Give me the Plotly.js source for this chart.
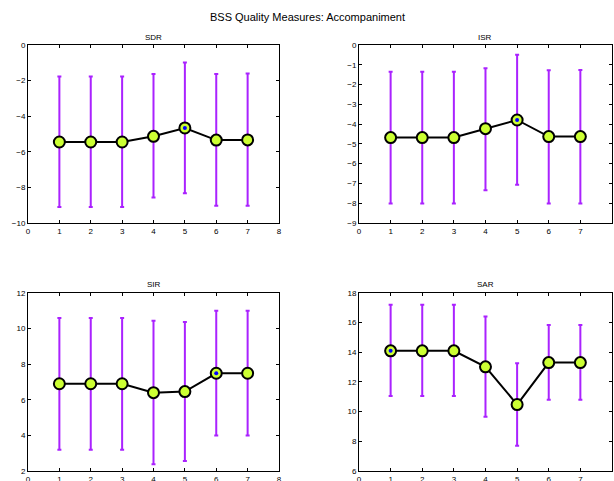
<!DOCTYPE html>
<html><head><meta charset="utf-8">
<script src="https://cdn.plot.ly/plotly-3.0.1.min.js"></script>
<style>html,body{margin:0;padding:0;background:#fff}#c{width:614px;height:481px}</style>
</head><body><div id="c"></div>
<script>
const xs = [1,2,3,4,5,6,7];
const sdrMean = [-5.45,-5.45,-5.45,-5.13,-4.66,-5.34,-5.33];
const sdrHigh = [-1.77,-1.77,-1.77,-1.63,-0.98,-1.63,-1.60];
const sdrLow  = [-9.10,-9.10,-9.10,-8.57,-8.33,-9.03,-9.03];
const isrMean = [-4.68,-4.68,-4.68,-4.23,-3.79,-4.63,-4.63];
const isrHigh = [-1.35,-1.35,-1.35,-1.17,-0.49,-1.28,-1.26];
const isrLow  = [-8.02,-8.02,-8.02,-7.34,-7.06,-8.01,-8.01];
const sirMean = [6.90,6.90,6.90,6.40,6.46,7.49,7.49];
const sirHigh = [10.59,10.59,10.59,10.44,10.37,11.00,11.00];
const sirLow  = [3.20,3.20,3.20,2.38,2.56,3.99,3.99];
const sarMean = [14.10,14.10,14.10,13.02,10.48,13.31,13.31];
const sarHigh = [17.20,17.20,17.20,16.42,13.27,15.84,15.84];
const sarLow  = [11.05,11.05,11.05,9.66,7.71,10.80,10.80];
const panelTitles = ['SDR','ISR','SIR','SAR'];
const bestIdx = [4,4,5,0];
const yRanges = [[-10,0],[-9,0],[2,12],[6,18]];
const yDtick = [2,1,2,2];

const panels = [
  [sdrMean,sdrHigh,sdrLow],[isrMean,isrHigh,isrLow],
  [sirMean,sirHigh,sirLow],[sarMean,sarHigh,sarLow]
];
const xDom = [[0.0456,0.4544],[0.5847,0.9967],[0.0456,0.4544],[0.5847,0.9967]];
const yDom = [[0.5364,0.9064],[0.5364,0.9064],[0.0208,0.3909],[0.0208,0.3909]];

const data = [];
const layout = {
  width:614, height:481, margin:{l:0,r:0,t:0,b:0},
  paper_bgcolor:'#fff', plot_bgcolor:'#fff', showlegend:false,
  font:{family:'Liberation Sans, Arial, sans-serif', size:8, color:'#000'},
  annotations:[{text:'BSS Quality Measures: Accompaniment', xref:'paper', yref:'paper',
    x:0.5, y:1-17/481, xanchor:'center', yanchor:'middle', showarrow:false,
    font:{size:11, color:'#000'}}]
};
panels.forEach((p,i)=>{
  const [m,h,l] = p;
  const xa = 'x'+(i+1), ya = 'y'+(i+1);
  const suf = i===0 ? '' : String(i+1);
  data.push({x:xs, y:m, xaxis:xa, yaxis:ya, type:'scatter', mode:'lines+markers',
    line:{color:'#000', width:2},
    marker:{size:11, color:'#ccff33', line:{color:'#000', width:2}},
    error_y:{type:'data', symmetric:false,
      array:m.map((v,k)=>h[k]-v), arrayminus:m.map((v,k)=>v-l[k]),
      color:'#aa22ff', thickness:2, width:2}
  });
  data.push({x:[xs[bestIdx[i]]], y:[m[bestIdx[i]]], xaxis:xa, yaxis:ya, type:'scatter',
    mode:'markers', marker:{size:4, color:'#0000ff'}});
  // redraw the markers on top of error bars
  layout['xaxis'+suf] = {domain:xDom[i], range:[0,8], dtick:1, anchor:ya,
    showline:true, mirror:'ticks', linecolor:'#000', linewidth:1, ticks:'inside',
    ticklen:3, tickcolor:'#000', showgrid:false, zeroline:false,
    tickfont:{size:8}, fixedrange:true};
  layout['yaxis'+suf] = {domain:yDom[i], range:yRanges[i], dtick:yDtick[i], anchor:xa,
    showline:true, mirror:'ticks', linecolor:'#000', linewidth:1, ticks:'inside',
    ticklen:3, tickcolor:'#000', showgrid:false, zeroline:false,
    tickfont:{size:8}, fixedrange:true};
  layout.annotations.push({text:panelTitles[i], xref:'paper', yref:'paper',
    x:(xDom[i][0]+xDom[i][1])/2, y:yDom[i][1], yshift:8, xanchor:'center', yanchor:'middle',
    showarrow:false, font:{size:8}});
});
Plotly.newPlot('c', data, layout, {displayModeBar:false, staticPlot:true});
</script></body></html>
